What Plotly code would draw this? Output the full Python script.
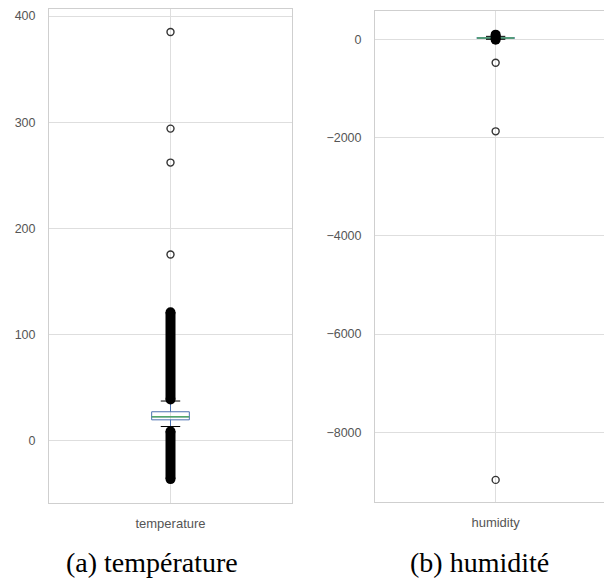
import plotly.graph_objects as go

# ---- data ----
categories = ["temperature", "humidity"]
captions = ["(a) température", "(b) humidité"]

# box statistics: q1, median, q3, lower cap, upper cap
temp_stats = dict(q1=19.8, median=22.6, q3=27.4, low=13.5, high=37.5)
hum_stats = dict(q1=18, median=26, q3=36, low=0, high=60)

# isolated outliers
temp_outliers = [385, 294, 262, 175.5]
hum_outliers = [-477, -1874, -8970]

# dense (overlapping) flier ranges: [start, end]
temp_dense = [[39, 121], [9, -36]]
hum_dense = [[-10, 95]]

temp_ticks = [0, 100, 200, 300, 400]
hum_ticks = [0, -2000, -4000, -6000, -8000]

# ---- style ----
BLUE = "#4C72B0"
GREEN = "#55A868"
GRID = "#dedede"
FRAME = "#cfcfcf"
TICKFONT = dict(family="Liberation Sans, Arial, sans-serif", size=12.5, color="#555555")
XTICKFONT = dict(family="Liberation Sans, Arial, sans-serif", size=13, color="#555555")
CAPFONT = dict(family="Liberation Serif, Times New Roman, serif", size=28, color="black")
BOXW = 0.155
CAPW = 0.08

fig = go.Figure()


def add_panel(xa, ya, name, stats, outliers, dense):
    fig.add_trace(go.Box(
        x=[1], q1=[stats["q1"]], median=[stats["median"]], q3=[stats["q3"]],
        lowerfence=[stats["low"]], upperfence=[stats["high"]],
        width=BOXW, whiskerwidth=0, boxpoints=False,
        line=dict(color=BLUE, width=1), fillcolor="rgba(0,0,0,0)",
        xaxis=xa, yaxis=ya, showlegend=False, hoverinfo="skip"))
    m = stats["median"]
    fig.add_trace(go.Box(
        x=[1], q1=[m], median=[m], q3=[m], lowerfence=[m], upperfence=[m],
        width=BOXW, whiskerwidth=0, boxpoints=False,
        line=dict(color=GREEN, width=1.5), fillcolor="rgba(0,0,0,0)",
        xaxis=xa, yaxis=ya, showlegend=False, hoverinfo="skip"))
    for v in (stats["low"], stats["high"]):
        fig.add_trace(go.Scatter(
            x=[1 - CAPW / 2, 1 + CAPW / 2], y=[v, v], mode="lines",
            line=dict(color="black", width=1), xaxis=xa, yaxis=ya,
            showlegend=False, hoverinfo="skip"))
    for lo, hi in dense:
        fig.add_trace(go.Scatter(
            x=[1, 1], y=[lo, hi], mode="lines+markers",
            line=dict(color="black", width=10),
            marker=dict(color="black", size=10),
            xaxis=xa, yaxis=ya, showlegend=False, hoverinfo="skip"))
    fig.add_trace(go.Scatter(
        x=[1] * len(outliers), y=outliers, mode="markers",
        marker=dict(symbol="circle-open", size=7, color="#333333",
                    line=dict(width=1.4, color="#333333")),
        xaxis=xa, yaxis=ya, showlegend=False, hoverinfo="skip"))


add_panel("x", "y", categories[0], temp_stats, temp_outliers, temp_dense)
add_panel("x2", "y2", categories[1], hum_stats, hum_outliers, hum_dense)

W, H = 604, 580
common_x = dict(showgrid=True, gridcolor=GRID, gridwidth=1, zeroline=False,
                ticks="", tickfont=XTICKFONT, showline=True, linecolor=FRAME,
                linewidth=1, ticklabelstandoff=8)
common_y = dict(showgrid=True, gridcolor=GRID, gridwidth=1, zeroline=False,
                ticks="", tickfont=TICKFONT, showline=True, linecolor=FRAME,
                linewidth=1, ticklabelstandoff=10, tickformat="d")

fig.update_layout(
    width=W, height=H, margin=dict(l=0, r=0, t=0, b=0),
    paper_bgcolor="white", plot_bgcolor="white", boxmode="overlay",
    xaxis=dict(common_x, domain=[49 / W, 292 / W], range=[0.5, 1.5],
               tickvals=[1], ticktext=[categories[0]], mirror=True, anchor="y"),
    yaxis=dict(common_y, domain=[1 - 503 / H, 1 - 9 / H], range=[-58.5, 406.6],
               tickvals=temp_ticks, mirror=True, anchor="x"),
    xaxis2=dict(common_x, domain=[375 / W, 1.0], range=[0.5, 1.449],
                tickvals=[1], ticktext=[categories[1]], mirror=True, anchor="y2"),
    yaxis2=dict(common_y, domain=[1 - 502 / H, 1 - 11 / H], range=[-9420, 576],
                tickvals=hum_ticks, mirror=False, anchor="x2"),
    annotations=[
        dict(text=captions[0], x=152 / W, y=1 - 562 / H, xref="paper", yref="paper",
             xanchor="center", yanchor="middle", showarrow=False, font=CAPFONT),
        dict(text=captions[1], x=479 / W, y=1 - 562 / H, xref="paper", yref="paper",
             xanchor="center", yanchor="middle", showarrow=False, font=CAPFONT),
    ],
)

fig.write_html("out.html", config={"displayModeBar": False},
               post_script="document.body.style.margin='0';document.body.style.overflow='hidden';")
